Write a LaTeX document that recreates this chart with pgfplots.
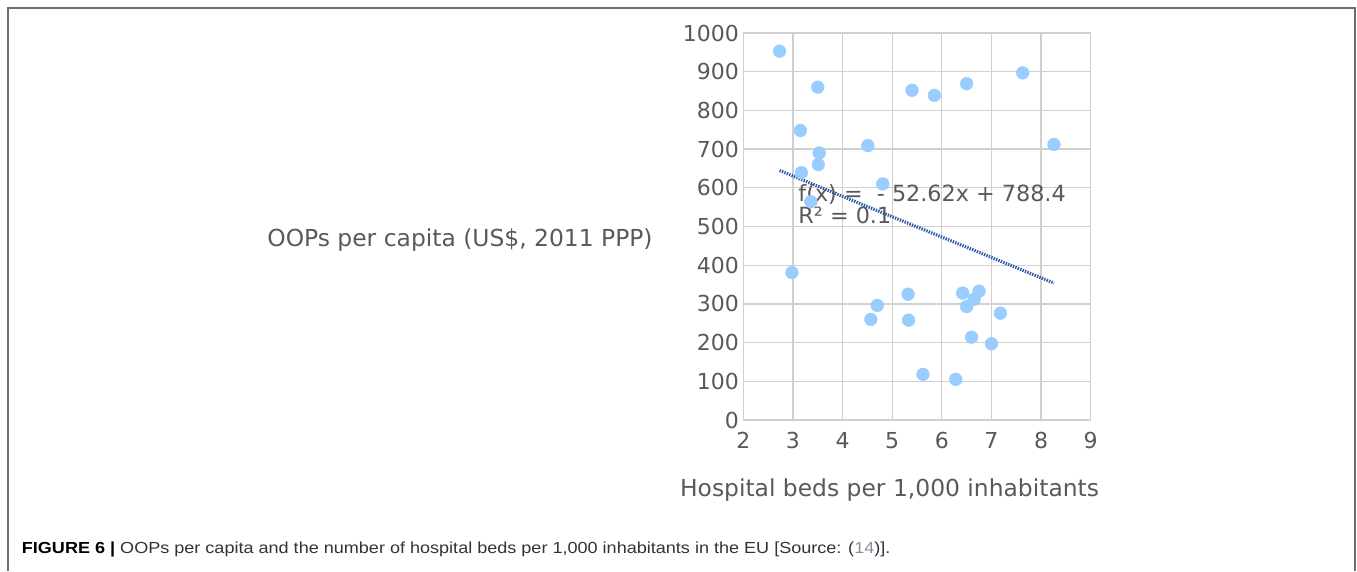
\documentclass[border=0pt]{standalone}
\usepackage{fontspec}
\setmainfont{DejaVu Sans}
\newfontfamily\capfont{Liberation Sans}
\usepackage{pgfplots}
\pgfplotsset{compat=1.18}
\definecolor{dotblue}{HTML}{99CCFF}
\definecolor{trend}{HTML}{2E5AAC}
\definecolor{txt}{HTML}{595959}
\definecolor{gridc}{HTML}{D0D0D0}
\definecolor{framec}{HTML}{6E6E6E}
\definecolor{captxt}{HTML}{333333}
\definecolor{reflink}{HTML}{8090A0}

\pgfplotstableread{
x y
2.73 953
3.50 860
3.15 748
3.53 690
3.51 660
3.17 639
3.36 564
4.51 709
4.81 610
5.40 852
5.85 839
6.50 869
7.63 897
8.26 712
2.98 381
4.57 260
4.70 296
5.32 325
5.33 258
5.62 118
6.28 105
6.42 328
6.75 333
6.65 312
6.50 293
6.60 214
7.00 197
7.18 276
}\datatable

\begin{document}
\begin{tikzpicture}
\useasboundingbox (0pt,0pt) rectangle (1357pt,571pt);
\draw[framec, line width=2pt] (7.5pt,0pt) -- (7.5pt,562.5pt) -- (1355pt,562.5pt) -- (1355pt,0pt);
\begin{axis}[
 at={(743.3pt,151pt)}, anchor=south west,
 scale only axis, width=347.4pt, height=387pt,
 xmin=2, xmax=9, ymin=0, ymax=1000,
 xtick={2,3,...,9}, ytick={0,100,...,1000},
 grid=major, major grid style={gridc, line width=1.3pt},
 axis line style={gridc, line width=1.3pt},
 major tick length=0pt,
 tick label style={font=\fontsize{22}{26}\selectfont, text=txt},
 /pgf/number format/assume math mode=true,
 /pgf/number format/1000 sep={},
 xticklabel style={yshift=-9pt},
 yticklabel style={xshift=-1pt},
 xlabel={Hospital beds per 1,000 inhabitants},
 ylabel={OOPs per capita (US\$, 2011 PPP)},
 label style={font=\fontsize{23.4}{28}\selectfont, text=txt},
 xlabel style={at={(axis description cs:0.421,-0.198)}, anchor=base},
 ylabel style={at={(axis description cs:-0.8155,0.448)}, anchor=base, rotate=-90},
 clip=false,
]
\addplot[only marks, mark=*, color=dotblue, mark size=6.4pt] table[x=x, y=y] {\datatable};
\addplot[trend, line width=3.2pt, dash pattern=on 1.4pt off 1.2pt] coordinates {(2.73,644.7) (8.26,353.8)};
\node[anchor=base west, font=\fontsize{22.3}{26}\selectfont, text=txt, inner sep=0pt] at (axis cs:3.108,564.1) {f(x) =\ \ - 52.62x + 788.4};
\node[anchor=base west, font=\fontsize{22.3}{26}\selectfont, text=txt, inner sep=0pt] at (axis cs:3.108,508.3) {R² = 0.1};
\end{axis}
\node[anchor=base west, inner sep=0pt, font=\capfont\fontsize{16}{19}\selectfont, text=captxt] at (21.7pt,18pt) {\scalebox{1.128}[1]{\textcolor{black}{\textbf{FIGURE 6 |}} OOPs per capita and the number of hospital beds per 1,000 inhabitants in the EU [Source: (\textcolor{reflink}{14})].}};
\end{tikzpicture}
\end{document}
